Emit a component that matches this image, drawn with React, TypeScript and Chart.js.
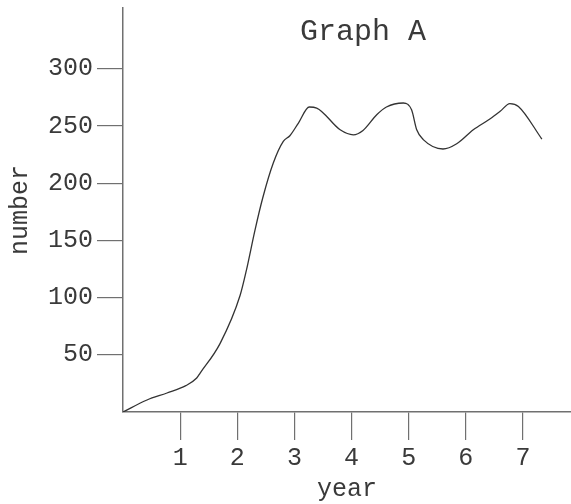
import React, { useEffect, useRef } from "react";
import { Chart, registerables } from "chart.js";

Chart.register(...registerables);

const chartTitle = "Graph A";
const xAxisTitle = "year";
const yAxisTitle = "number";
const xTickValues = [1, 2, 3, 4, 5, 6, 7];
const yTickValues = [50, 100, 150, 200, 250, 300];
const years = [
  0, 0.42, 0.77, 1.1, 1.29, 1.35, 1.7, 2.05, 2.16, 2.31, 2.445, 2.63, 2.805, 2.92,
  3.07, 3.26, 3.39, 3.8, 4.03, 4.2, 4.44, 4.61, 4.905, 5.05, 5.14, 5.255, 5.6,
  5.84, 6.13, 6.42, 6.6, 6.77, 6.92, 7.33,
];
const numbers = [
  0, 10.5, 16.6, 23, 29.7, 34, 60, 102, 124, 159, 187, 217.5, 236.4, 241.4,
  252.5, 266.5, 265.6, 246.6, 242.2, 246, 259.7, 266.5, 270, 264, 246.6, 238,
  229.8, 234.4, 246.6, 256, 262.7, 269.4, 267, 238.5,
];

const FONT = "'Liberation Mono', 'DejaVu Sans Mono', monospace";
const TEXT = "#3a3a3a";
const AXIS = "#707070";

export default function App() {
  const ref = useRef<HTMLCanvasElement | null>(null);

  useEffect(() => {
    document.body.style.margin = "0";
    const canvas = ref.current;
    if (!canvas) return;

    const titlePlugin = {
      id: "innerTitle",
      afterDraw(chart: any) {
        const { ctx } = chart;
        const xs = chart.scales.x;
        const ys = chart.scales.y;
        ctx.save();
        ctx.font = `30px ${FONT}`;
        ctx.fillStyle = TEXT;
        ctx.textAlign = "center";
        ctx.textBaseline = "middle";
        ctx.fillText(chartTitle, xs.getPixelForValue(4.2), ys.getPixelForValue(332));
        ctx.restore();
      },
    };

    const chart = new Chart(canvas, {
      type: "line",
      data: {
        datasets: [
          {
            data: years.map((x, i) => ({ x, y: numbers[i] })),
            borderColor: "#333333",
            borderWidth: 1.3,
            pointRadius: 0,
            cubicInterpolationMode: "monotone",
            fill: false,
          },
        ],
      },
      options: {
        animation: false,
        responsive: false,
        maintainAspectRatio: false,
        layout: { padding: { top: 8, right: 0, left: 0, bottom: 0 } },
        plugins: { legend: { display: false }, tooltip: { enabled: false }, title: { display: false } },
        scales: {
          x: {
            type: "linear",
            min: 0,
            max: 7.84,
            afterBuildTicks: (s: any) => {
              s.ticks = xTickValues.map((v) => ({ value: v }));
            },
            afterFit: (s: any) => {
              s.height = 92;
              s.paddingLeft = 0;
              s.paddingRight = 0;
            },
            grid: {
              drawOnChartArea: false,
              drawTicks: true,
              tickLength: 28,
              color: AXIS,
              lineWidth: 1.2,
            },
            border: { display: true, color: AXIS, width: 1.5 },
            ticks: {
              font: { family: FONT, size: 25 },
              color: TEXT,
              padding: 3,
              maxRotation: 0,
              autoSkip: false,
              callback: (v: any) => String(v),
            },
            title: {
              display: true,
              text: xAxisTitle,
              font: { family: FONT, size: 25 },
              color: TEXT,
              padding: { top: 0, bottom: 0 },
            },
          },
          y: {
            type: "linear",
            min: 0,
            max: 353,
            afterBuildTicks: (s: any) => {
              s.ticks = yTickValues.map((v) => ({ value: v }));
            },
            afterFit: (s: any) => {
              s.width = 123;
              s.paddingTop = 0;
              s.paddingBottom = 0;
            },
            grid: {
              drawOnChartArea: false,
              drawTicks: true,
              tickLength: 26,
              color: AXIS,
              lineWidth: 1.2,
            },
            border: { display: true, color: AXIS, width: 1.5 },
            ticks: {
              font: { family: FONT, size: 25 },
              color: TEXT,
              padding: 4,
              autoSkip: false,
              callback: (v: any) => String(v),
            },
            title: {
              display: true,
              text: yAxisTitle,
              font: { family: FONT, size: 25 },
              color: TEXT,
              padding: { top: 5, bottom: 0 },
            },
          },
        },
      },
      plugins: [titlePlugin],
    } as any);

    return () => chart.destroy();
  }, []);

  return (
    <div style={{ width: 571, height: 504, background: "#ffffff" }}>
      <canvas ref={ref} width={571} height={504} style={{ display: "block", width: 571, height: 504 }} />
    </div>
  );
}
